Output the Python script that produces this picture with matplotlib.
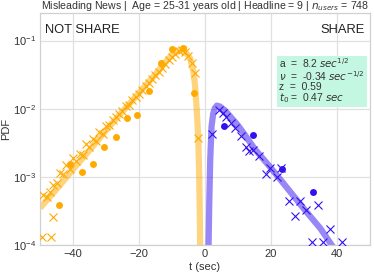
import numpy as np
import matplotlib
matplotlib.use("Agg")
import matplotlib.pyplot as plt

plt.rcParams['font.family'] = ['Liberation Sans', 'DejaVu Sans']
plt.rcParams['mathtext.fontset'] = 'dejavusans'

# --- data ---
# empirical (dots)
not_share_dot_t = [-44.2, -40.9, -37.4, -33.8, -30.5, -27.1, -23.7, -20.5, -16.9, -13.4, -10.1, -6.8, -3.2]
not_share_dot_p = [0.00039, 0.00155, 0.00117, 0.00155, 0.00275, 0.0039, 0.0074, 0.0082, 0.018, 0.047, 0.076, 0.078, 0.017]
share_dot_t = [5.8, 14.6, 23.5, 32.8]
share_dot_p = [0.0056, 0.0041, 0.0013, 0.00059]

# simulated (crosses)
not_share_x_t = [-49.5, -49.0, -48.0, -47.0, -46.6, -46.1, -46.0, -45.0, -44.0, -43.0, -42.0, -41.0,
                 -40.0, -39.0, -38.0, -37.0, -36.0, -35.0, -34.0, -33.0, -32.0, -31.0, -30.0, -29.0,
                 -28.0, -27.0, -26.0, -25.0, -24.0, -23.0, -22.0, -21.0, -20.0, -19.0, -18.0, -17.0,
                 -16.0, -15.0, -14.0, -13.0, -12.0, -11.0, -10.0, -9.0, -8.0, -7.0, -6.0, -5.0,
                 -4.0, -3.0, -2.0]
not_share_x_p = [0.00013, 0.00055, 0.0005, 0.0006, 0.00013, 0.00026, 0.00076, 0.0008, 0.00115, 0.0011, 0.0015, 0.0013,
                 0.0019, 0.0017, 0.0022, 0.0021, 0.0030, 0.0027, 0.0036, 0.0034, 0.0045, 0.0042, 0.0055, 0.0058,
                 0.0068, 0.0075, 0.0085, 0.0092, 0.0110, 0.0115, 0.0135, 0.0150, 0.0165, 0.0190, 0.0215, 0.0240,
                 0.0270, 0.0310, 0.0350, 0.0400, 0.0450, 0.0520, 0.0580, 0.0640, 0.0700, 0.0740, 0.0680, 0.0600,
                 0.0470, 0.0330, 0.0037]
share_x_t = [2.1, 4.4, 5.4, 6.5, 8.0, 9.2, 10.8, 12.4, 13.3, 14.6, 16.3, 18.4, 19.7, 21.9, 23.0,
             25.6, 27.4, 28.9, 30.7, 32.6, 34.3, 35.9, 37.9, 41.4]
share_x_p = [0.0043, 0.0097, 0.0088, 0.0075, 0.0062, 0.0052, 0.0040, 0.0027, 0.0024, 0.0025, 0.0020, 0.0011,
             0.00135, 0.0010, 0.00135, 0.00044, 0.00027, 0.00044, 0.00033, 0.00011, 0.00039, 0.00011, 0.00017, 0.00011]

# fitted model curve
not_share_fit_t = [-50, -45, -40, -35, -30, -25, -20, -17, -15, -12, -10, -8.5, -7.5, -6, -4.5, -3.5,
                   -3.0, -2.5, -2.0, -1.7, -1.5, -1.3, -1.1]
not_share_fit_p = [3.5e-4, 6.6e-4, 1.29e-3, 2.45e-3, 4.8e-3, 9.1e-3, 0.017, 0.025, 0.032, 0.048, 0.062,
                   0.071, 0.072, 0.069, 0.055, 0.035, 0.022, 0.010, 0.0035, 8e-4, 1.5e-4, 1.5e-5, 1e-6]
share_fit_t = [0.9, 1.1, 1.3, 1.6, 2.0, 2.5, 3.0, 3.6, 4.5, 6, 8, 10, 12, 15, 20, 25, 30, 35, 38.4, 42, 46, 50]
share_fit_p = [1e-6, 1e-4, 4e-4, 1.8e-3, 5.5e-3, 8.5e-3, 0.0102, 0.0111, 0.0108, 0.0095, 0.0074, 0.0057,
               0.0042, 0.0026, 0.00135, 6.8e-4, 3.4e-4, 1.75e-4, 1.0e-4, 6e-5, 3.5e-5, 2e-5]

params_text = ("a  =  8.2 $sec^{1/2}$\n"
               "$\\nu$  =  -0.34 $sec^{-1/2}$\n"
               "z  =  0.59\n"
               "$t_0$ =  0.47 $sec$")
title = "Misleading News |  Age = 25-31 years old | Headline = 9 | $n_{users}$ = 748"

ORANGE = '#FFAA00'
BLUE = '#3311EE'

fig = plt.figure(figsize=(3.74, 2.75), dpi=100)
ax = fig.add_axes([0.107, 0.109, 0.882, 0.842])
ax.set_facecolor('white')

ax.plot(not_share_fit_t, not_share_fit_p, color=ORANGE, alpha=0.5, lw=4.5, solid_capstyle='butt', zorder=2)
ax.plot(share_fit_t, share_fit_p, color=BLUE, alpha=0.5, lw=4.5, solid_capstyle='butt', zorder=2)

ax.plot(not_share_x_t, not_share_x_p, 'x', color=ORANGE, ms=6, mew=0.8, zorder=3)
ax.plot(share_x_t, share_x_p, 'x', color=BLUE, ms=6, mew=0.8, zorder=3)
ax.plot(not_share_dot_t, not_share_dot_p, 'o', color=ORANGE, ms=5, mec='none', zorder=4)
ax.plot(share_dot_t, share_dot_p, 'o', color=BLUE, ms=5, mec='none', zorder=4)

ax.set_yscale('log')
ax.set_xlim(-50, 50)
ax.set_ylim(1e-4, 0.25)
ax.set_xticks([-40, -20, 0, 20, 40])
ax.grid(True, color='#e0e0e0', lw=0.9)
ax.set_axisbelow(True)
for s in ax.spines.values():
    s.set_color('#d0d0d0')
    s.set_linewidth(0.9)
ax.tick_params(axis='both', which='both', length=0, labelsize=8, colors='#333333', pad=3)
ax.minorticks_off()

ax.set_xlabel('t (sec)', fontsize=8, color='#333333', labelpad=2)
ax.set_ylabel('PDF', fontsize=8, color='#333333', labelpad=1)
ax.set_title(title, fontsize=7.6, color='#333333', pad=2)

ax.text(0.015, 0.955, 'NOT SHARE', transform=ax.transAxes, fontsize=9.3, va='top', ha='left', color='#222222')
ax.text(0.985, 0.955, 'SHARE', transform=ax.transAxes, fontsize=9.3, va='top', ha='right', color='#222222')
ax.text(0.725, 0.815, params_text, transform=ax.transAxes, fontsize=7.4, va='top', ha='left', color='#333333',
        linespacing=0.9,
        bbox=dict(boxstyle='square,pad=0.25', fc='#c4f7e2', ec='none'))

fig.savefig('out.png', dpi=100)
